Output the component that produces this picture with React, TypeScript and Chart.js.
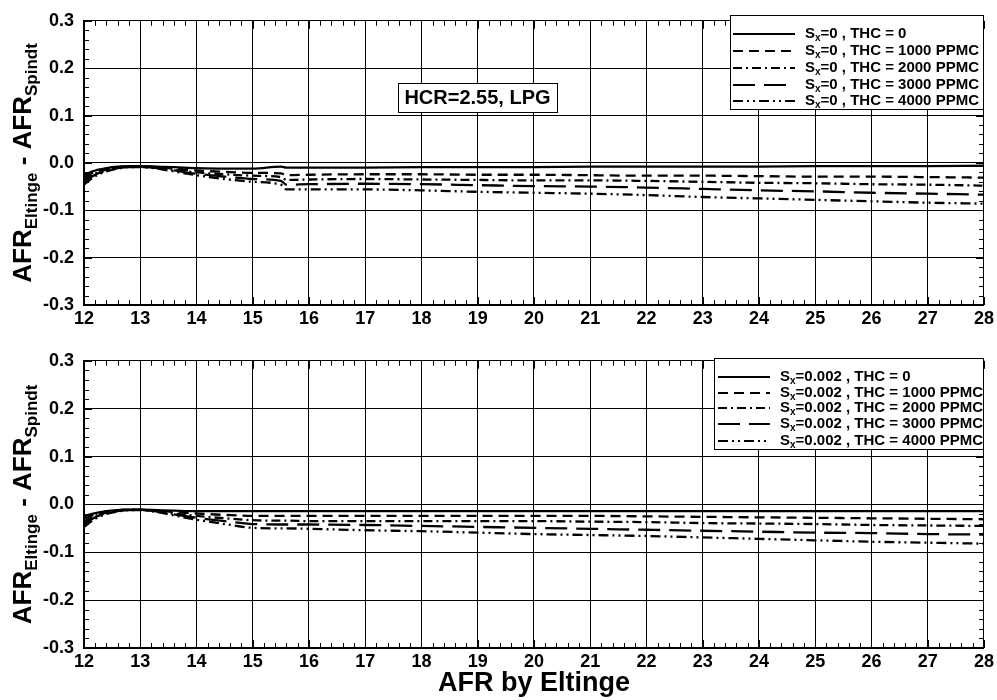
import React, { useEffect, useRef } from "react";
import { Chart, registerables } from "chart.js";
Chart.register(...registerables);

// ---------- data ----------
const afrX = [12, 12.2, 12.4, 12.6, 12.8, 13.0, 13.3, 13.6, 14.0, 14.5, 15.0, 15.5, 15.6, 16, 17, 18, 19, 20, 21, 22, 23, 24, 25, 26, 27, 28];

// top panel: Sx = 0
const topThc0 = [-0.025, -0.016, -0.011, -0.008, -0.007, -0.007, -0.008, -0.009, -0.011, -0.012, -0.012, -0.008, -0.010, -0.010, -0.010, -0.009, -0.009, -0.009, -0.008, -0.008, -0.008, -0.008, -0.007, -0.007, -0.007, -0.006];
const topThc1000 = [-0.030, -0.019, -0.012, -0.009, -0.007, -0.007, -0.009, -0.012, -0.016, -0.019, -0.021, -0.022, -0.026, -0.025, -0.024, -0.024, -0.025, -0.025, -0.026, -0.027, -0.027, -0.028, -0.029, -0.029, -0.030, -0.031];
const topThc2000 = [-0.035, -0.022, -0.014, -0.010, -0.008, -0.008, -0.010, -0.014, -0.020, -0.024, -0.027, -0.030, -0.036, -0.035, -0.034, -0.035, -0.036, -0.037, -0.037, -0.038, -0.040, -0.042, -0.043, -0.045, -0.046, -0.048];
const topThc3000 = [-0.040, -0.025, -0.016, -0.011, -0.009, -0.009, -0.011, -0.016, -0.023, -0.029, -0.034, -0.038, -0.046, -0.045, -0.044, -0.045, -0.047, -0.049, -0.050, -0.052, -0.055, -0.058, -0.060, -0.063, -0.065, -0.067];
const topThc4000 = [-0.046, -0.028, -0.018, -0.012, -0.009, -0.009, -0.012, -0.018, -0.026, -0.034, -0.040, -0.046, -0.056, -0.056, -0.056, -0.058, -0.061, -0.063, -0.065, -0.068, -0.072, -0.075, -0.078, -0.081, -0.084, -0.086];

// bottom panel: Sx = 0.002
const botThc0 = [-0.025, -0.018, -0.014, -0.012, -0.011, -0.011, -0.012, -0.013, -0.014, -0.014, -0.014, -0.014, -0.014, -0.014, -0.014, -0.014, -0.014, -0.014, -0.014, -0.014, -0.014, -0.014, -0.014, -0.014, -0.014, -0.014];
const botThc1000 = [-0.030, -0.021, -0.015, -0.012, -0.011, -0.011, -0.013, -0.016, -0.019, -0.022, -0.024, -0.024, -0.024, -0.024, -0.024, -0.024, -0.024, -0.024, -0.024, -0.025, -0.026, -0.027, -0.028, -0.029, -0.030, -0.031];
const botThc2000 = [-0.036, -0.024, -0.017, -0.013, -0.011, -0.011, -0.014, -0.019, -0.024, -0.029, -0.033, -0.034, -0.034, -0.035, -0.035, -0.035, -0.035, -0.035, -0.036, -0.037, -0.039, -0.040, -0.041, -0.043, -0.044, -0.045];
const botThc3000 = [-0.041, -0.027, -0.018, -0.014, -0.012, -0.012, -0.015, -0.021, -0.028, -0.035, -0.041, -0.042, -0.042, -0.042, -0.043, -0.045, -0.047, -0.049, -0.051, -0.053, -0.055, -0.057, -0.059, -0.060, -0.062, -0.063];
const botThc4000 = [-0.047, -0.030, -0.020, -0.015, -0.012, -0.012, -0.016, -0.023, -0.032, -0.041, -0.049, -0.050, -0.050, -0.051, -0.054, -0.056, -0.059, -0.062, -0.064, -0.066, -0.069, -0.072, -0.075, -0.078, -0.080, -0.082];

const thcLabels = ["THC = 0", "THC = 1000 PPMC", "THC = 2000 PPMC", "THC = 3000 PPMC", "THC = 4000 PPMC"];
const topSx = "0";
const botSx = "0.002";
const xTitle = "AFR by Eltinge";
const annotation = "HCR=2.55, LPG";

const dashes: number[][] = [[], [10, 6], [9, 4, 2, 4], [22, 9], [10, 4, 2, 4, 2, 4]];
const FONT = "'Liberation Sans', Arial, Helvetica, sans-serif";

type Panel = {
  series: number[][];
  sx: string;
  height: number;
  top: number;
  xAxisH: number;
  legend: { l: number; t: number; r: number; b: number; rows: number[]; lx0: number; lx1: number; tx: number };
  note?: { l: number; t: number; r: number; b: number };
  xTitleY?: number;
};

function makePlugin(p: Panel) {
  return {
    id: "custom",
    afterDraw(chart: any) {
      const ctx: CanvasRenderingContext2D = chart.ctx;
      const ca = chart.chartArea;
      const xs = chart.scales.x;
      const ys = chart.scales.y;
      ctx.save();
      ctx.strokeStyle = "#000";
      ctx.lineWidth = 1;
      ctx.setLineDash([]);
      // minor ticks
      ctx.beginPath();
      for (let v = 12; v <= 28.001; v += 0.2) {
        const px = Math.round(xs.getPixelForValue(v)) + 0.5;
        const major = Math.abs(v - Math.round(v)) < 1e-6;
        const len = major ? 8 : 5;
        ctx.moveTo(px, ca.bottom);
        ctx.lineTo(px, ca.bottom - len);
        ctx.moveTo(px, ca.top);
        ctx.lineTo(px, ca.top + len);
      }
      for (let i = -15; i <= 15; i++) {
        const v = i * 0.02;
        const py = Math.round(ys.getPixelForValue(v)) + 0.5;
        const len = i % 5 === 0 ? 8 : 5;
        ctx.moveTo(ca.left, py);
        ctx.lineTo(ca.left + len, py);
        ctx.moveTo(ca.right, py);
        ctx.lineTo(ca.right - len, py);
      }
      ctx.stroke();

      // legend
      const L = p.legend;
      ctx.fillStyle = "#fff";
      ctx.fillRect(L.l, L.t, L.r - L.l, L.b - L.t);
      ctx.strokeRect(L.l + 0.5, L.t + 0.5, L.r - L.l, L.b - L.t);
      ctx.fillStyle = "#000";
      ctx.textBaseline = "middle";
      ctx.textAlign = "left";
      L.rows.forEach((ry, i) => {
        ctx.save();
        ctx.lineWidth = 2;
        ctx.setLineDash(dashes[i]);
        ctx.beginPath();
        ctx.moveTo(L.lx0, ry);
        ctx.lineTo(L.lx1, ry);
        ctx.stroke();
        ctx.restore();
        let x = L.tx;
        ctx.font = `bold 15px ${FONT}`;
        ctx.fillText("S", x, ry);
        x += ctx.measureText("S").width;
        ctx.font = `bold 10px ${FONT}`;
        ctx.fillText("x", x, ry + 4);
        x += ctx.measureText("x").width;
        ctx.font = `bold 15px ${FONT}`;
        ctx.fillText(`=${p.sx} , ${thcLabels[i]}`, x, ry);
      });

      // annotation
      if (p.note) {
        const N = p.note;
        ctx.fillStyle = "#fff";
        ctx.fillRect(N.l, N.t, N.r - N.l, N.b - N.t);
        ctx.strokeRect(N.l + 0.5, N.t + 0.5, N.r - N.l, N.b - N.t);
        ctx.fillStyle = "#000";
        ctx.font = `bold 20px ${FONT}`;
        ctx.textAlign = "center";
        ctx.fillText(annotation, (N.l + N.r) / 2, (N.t + N.b) / 2 + 1);
      }

      // y title (rotated, with subscripts)
      const segs: [string, number, number][] = [
        ["AFR", 26, 0],
        ["Eltinge", 17, 6],
        [" - ", 26, 0],
        ["AFR", 26, 0],
        ["Spindt", 17, 6],
      ];
      let total = 0;
      segs.forEach(([t, s]) => {
        ctx.font = `bold ${s}px ${FONT}`;
        total += ctx.measureText(t).width;
      });
      ctx.save();
      ctx.translate(31, (ca.top + ca.bottom) / 2);
      ctx.rotate(-Math.PI / 2);
      ctx.textAlign = "left";
      ctx.textBaseline = "alphabetic";
      let cx = -total / 2;
      segs.forEach(([t, s, off]) => {
        ctx.font = `bold ${s}px ${FONT}`;
        ctx.fillText(t, cx, off);
        cx += ctx.measureText(t).width;
      });
      ctx.restore();

      // x title
      if (p.xTitleY !== undefined) {
        ctx.font = `bold 27px ${FONT}`;
        ctx.textAlign = "center";
        ctx.textBaseline = "middle";
        ctx.fillText(xTitle, (ca.left + ca.right) / 2, p.xTitleY);
      }
      ctx.restore();
    },
  };
}

function PanelChart({ p }: { p: Panel }) {
  const ref = useRef<HTMLCanvasElement | null>(null);
  useEffect(() => {
    if (!ref.current) return;
    const chart = new Chart(ref.current, {
      type: "line",
      data: {
        datasets: p.series.map((ys, i) => ({
          label: thcLabels[i],
          data: afrX.map((x, j) => ({ x, y: ys[j] })),
          borderColor: "#000",
          borderWidth: 2.3,
          borderDash: dashes[i],
          pointRadius: 0,
          fill: false,
          cubicInterpolationMode: "monotone" as const,
        })),
      },
      options: {
        animation: false,
        responsive: false,
        layout: { padding: { top: p.top, right: 11, left: 0, bottom: 0 } },
        plugins: { legend: { display: false }, tooltip: { enabled: false } },
        scales: {
          x: {
            type: "linear",
            min: 12,
            max: 28,
            afterFit: (s: any) => {
              s.height = p.xAxisH;
            },
            ticks: {
              stepSize: 1,
              color: "#000",
              font: { family: FONT, size: 18, weight: "bold" },
              padding: 3,
              maxRotation: 0,
            },
            grid: { color: "#000", lineWidth: 1, drawTicks: false },
            border: { color: "#000", width: 2 },
          },
          y: {
            min: -0.3,
            max: 0.3,
            afterFit: (s: any) => {
              s.width = 84;
            },
            ticks: {
              stepSize: 0.1,
              color: "#000",
              font: { family: FONT, size: 18, weight: "bold" },
              padding: 10,
              callback: (v: any) => (Math.abs(v) < 1e-9 ? "0.0" : Number(v).toFixed(1)),
            },
            grid: { color: "#000", lineWidth: 1, drawTicks: false },
            border: { color: "#000", width: 2 },
          },
        },
      } as any,
      plugins: [makePlugin(p)],
    });
    return () => chart.destroy();
  }, [p]);
  return <canvas ref={ref} width={997} height={p.height} style={{ display: "block", width: 997, height: p.height }} />;
}

const topPanel: Panel = {
  series: [topThc0, topThc1000, topThc2000, topThc3000, topThc4000],
  sx: topSx,
  height: 340,
  top: 15,
  xAxisH: 35,
  legend: { l: 730, t: 15, r: 983, b: 109, rows: [34, 51, 68, 85, 101], lx0: 733, lx1: 795, tx: 805 },
  note: { l: 398, t: 83, r: 557, b: 112 },
};

const bottomPanel: Panel = {
  series: [botThc0, botThc1000, botThc2000, botThc3000, botThc4000],
  sx: botSx,
  height: 360,
  top: 18,
  xAxisH: 52,
  legend: { l: 714, t: 18, r: 983, b: 109, rows: [37, 53, 68, 84, 101], lx0: 718, lx1: 770, tx: 780 },
  xTitleY: 344,
};

export default function App() {
  return (
    <div style={{ position: "absolute", left: 0, top: 0, width: 997, height: 700, background: "#fff" }}>
      <PanelChart p={topPanel} />
      <PanelChart p={bottomPanel} />
    </div>
  );
}
